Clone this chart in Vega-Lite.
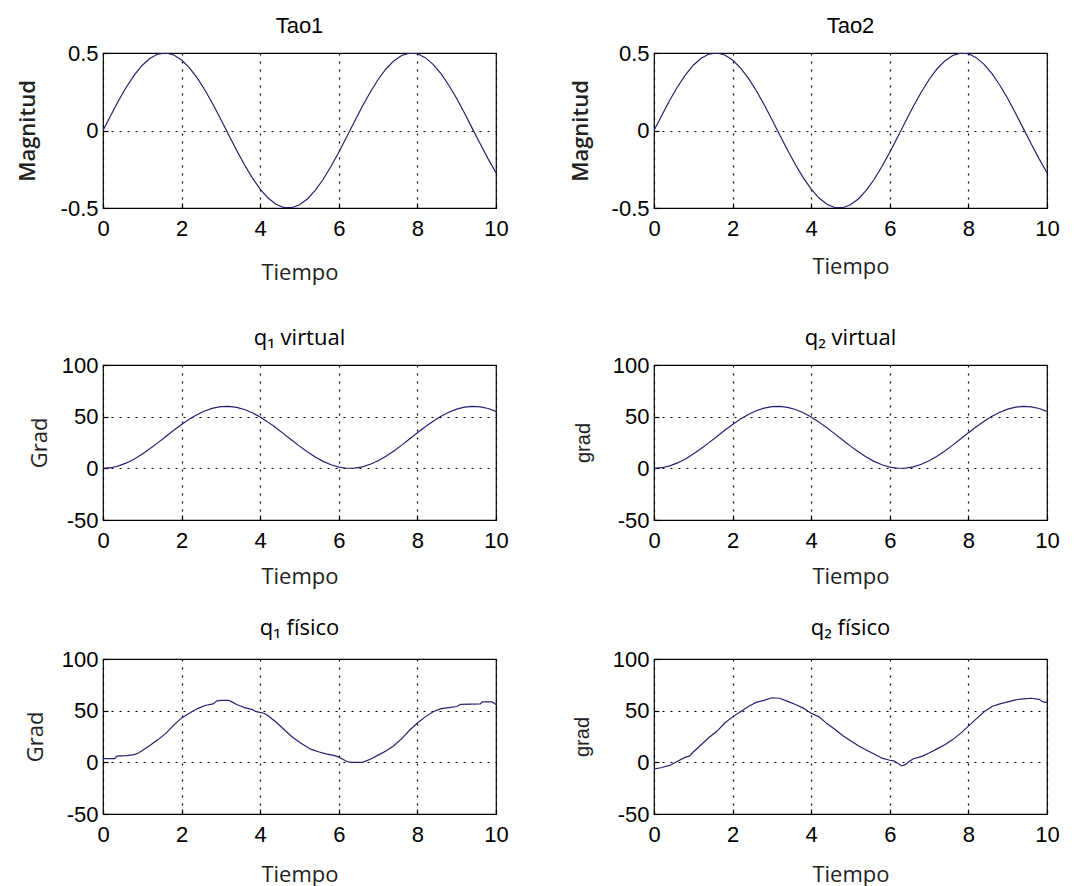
{
  "$schema": "https://vega.github.io/schema/vega-lite/v6.json",
  "padding": {"left": 15, "top": 14, "right": 5, "bottom": 0},
  "background": "white",
  "datasets": {
    "tao": [
      {"t":0,"v":0},{"t":0.2,"v":0.099},{"t":0.4,"v":0.195},{"t":0.6,"v":0.282},{"t":0.8,"v":0.359},{"t":1.0,"v":0.421},{"t":1.2,"v":0.466},{"t":1.4,"v":0.493},{"t":1.6,"v":0.5},{"t":1.8,"v":0.487},{"t":2.0,"v":0.455},{"t":2.2,"v":0.404},{"t":2.4,"v":0.338},{"t":2.6,"v":0.258},{"t":2.8,"v":0.168},{"t":3.0,"v":0.071},{"t":3.2,"v":-0.029},{"t":3.4,"v":-0.128},{"t":3.6,"v":-0.221},{"t":3.8,"v":-0.306},{"t":4.0,"v":-0.378},{"t":4.2,"v":-0.436},{"t":4.4,"v":-0.476},{"t":4.6,"v":-0.497},{"t":4.8,"v":-0.498},{"t":5.0,"v":-0.479},{"t":5.2,"v":-0.442},{"t":5.4,"v":-0.386},{"t":5.6,"v":-0.316},{"t":5.8,"v":-0.232},{"t":6.0,"v":-0.140},{"t":6.2,"v":-0.042},{"t":6.4,"v":0.058},{"t":6.6,"v":0.156},{"t":6.8,"v":0.247},{"t":7.0,"v":0.329},{"t":7.2,"v":0.397},{"t":7.4,"v":0.449},{"t":7.6,"v":0.484},{"t":7.8,"v":0.499},{"t":8.0,"v":0.495},{"t":8.2,"v":0.470},{"t":8.4,"v":0.427},{"t":8.6,"v":0.367},{"t":8.8,"v":0.292},{"t":9.0,"v":0.206},{"t":9.2,"v":0.111},{"t":9.4,"v":0.012},{"t":9.6,"v":-0.087},{"t":9.8,"v":-0.183},{"t":10.0,"v":-0.272}
    ],
    "qv": [
      {"t":0,"v":0},{"t":0.2,"v":0.6},{"t":0.4,"v":2.37},{"t":0.6,"v":5.24},{"t":0.8,"v":9.10},{"t":1.0,"v":13.79},{"t":1.2,"v":19.13},{"t":1.4,"v":24.9},{"t":1.6,"v":30.88},{"t":1.8,"v":36.82},{"t":2.0,"v":42.48},{"t":2.2,"v":47.66},{"t":2.4,"v":52.12},{"t":2.6,"v":55.71},{"t":2.8,"v":58.27},{"t":3.0,"v":59.70},{"t":3.2,"v":59.95},{"t":3.4,"v":59.00},{"t":3.6,"v":56.90},{"t":3.8,"v":53.73},{"t":4.0,"v":49.61},{"t":4.2,"v":44.71},{"t":4.4,"v":39.22},{"t":4.6,"v":33.37},{"t":4.8,"v":27.38},{"t":5.0,"v":21.49},{"t":5.2,"v":15.95},{"t":5.4,"v":10.96},{"t":5.6,"v":6.73},{"t":5.8,"v":3.44},{"t":6.0,"v":1.19},{"t":6.2,"v":0.10},{"t":6.4,"v":0.20},{"t":6.6,"v":1.49},{"t":6.8,"v":3.92},{"t":7.0,"v":7.38},{"t":7.2,"v":11.75},{"t":7.4,"v":16.85},{"t":7.6,"v":22.46},{"t":7.8,"v":28.38},{"t":8.0,"v":34.37},{"t":8.2,"v":40.18},{"t":8.4,"v":45.58},{"t":8.6,"v":50.36},{"t":8.8,"v":54.33},{"t":9.0,"v":57.33},{"t":9.2,"v":59.24},{"t":9.4,"v":59.99},{"t":9.6,"v":59.54},{"t":9.8,"v":57.91},{"t":10.0,"v":55.17}
    ],
    "q1f": [
      {"t":0,"v":3.5},{"t":0.3,"v":3.5},{"t":0.35,"v":6},{"t":0.6,"v":6.5},{"t":0.8,"v":7.5},{"t":0.9,"v":9},{"t":1.0,"v":11.5},{"t":1.2,"v":16.5},{"t":1.4,"v":22},{"t":1.6,"v":28},{"t":1.8,"v":36},{"t":2.0,"v":43},{"t":2.2,"v":47.5},{"t":2.4,"v":52},{"t":2.6,"v":55},{"t":2.8,"v":56.5},{"t":2.9,"v":59.5},{"t":3.0,"v":60},{"t":3.2,"v":60},{"t":3.3,"v":58},{"t":3.4,"v":56},{"t":3.5,"v":54.5},{"t":3.6,"v":53},{"t":3.8,"v":51},{"t":3.9,"v":49},{"t":4.1,"v":47.5},{"t":4.2,"v":45},{"t":4.4,"v":39},{"t":4.6,"v":32},{"t":4.8,"v":25},{"t":5.0,"v":19.5},{"t":5.2,"v":14.5},{"t":5.3,"v":12.5},{"t":5.5,"v":10},{"t":5.7,"v":8},{"t":5.9,"v":6.5},{"t":6.0,"v":5},{"t":6.1,"v":3},{"t":6.2,"v":1},{"t":6.3,"v":0},{"t":6.6,"v":0},{"t":6.8,"v":3},{"t":7.0,"v":7},{"t":7.2,"v":11},{"t":7.4,"v":16},{"t":7.6,"v":23},{"t":7.8,"v":31},{"t":8.0,"v":38},{"t":8.2,"v":44},{"t":8.4,"v":49},{"t":8.6,"v":52},{"t":8.8,"v":53},{"t":9.0,"v":54},{"t":9.1,"v":56},{"t":9.6,"v":56.5},{"t":9.65,"v":58.5},{"t":9.9,"v":58.5},{"t":10,"v":56}
    ],
    "q2f": [
      {"t":0,"v":-6.5},{"t":0.2,"v":-5},{"t":0.4,"v":-3},{"t":0.6,"v":1},{"t":0.8,"v":5},{"t":0.9,"v":6},{"t":1.0,"v":10},{"t":1.2,"v":17},{"t":1.4,"v":24},{"t":1.6,"v":30},{"t":1.8,"v":38},{"t":2.0,"v":44},{"t":2.2,"v":49},{"t":2.4,"v":54},{"t":2.6,"v":58},{"t":2.8,"v":60},{"t":3.0,"v":62.5},{"t":3.2,"v":62},{"t":3.4,"v":59},{"t":3.6,"v":56},{"t":3.8,"v":52.5},{"t":3.9,"v":50},{"t":4.0,"v":47.5},{"t":4.2,"v":44},{"t":4.4,"v":37.5},{"t":4.6,"v":32},{"t":4.8,"v":26},{"t":5.0,"v":21},{"t":5.2,"v":16},{"t":5.4,"v":12},{"t":5.6,"v":8},{"t":5.8,"v":4},{"t":6.0,"v":2},{"t":6.1,"v":1.5},{"t":6.2,"v":-1},{"t":6.3,"v":-3.5},{"t":6.4,"v":-2},{"t":6.5,"v":1},{"t":6.6,"v":3.5},{"t":6.8,"v":5.5},{"t":7.0,"v":9},{"t":7.2,"v":13},{"t":7.4,"v":17},{"t":7.6,"v":22},{"t":7.8,"v":28},{"t":8.0,"v":35},{"t":8.2,"v":42},{"t":8.4,"v":49},{"t":8.6,"v":54},{"t":8.8,"v":56.5},{"t":9.0,"v":58.5},{"t":9.2,"v":60.5},{"t":9.4,"v":61.5},{"t":9.6,"v":62},{"t":9.8,"v":61},{"t":9.9,"v":58.5},{"t":10,"v":58}
    ]
  },
  "config": {
    "view": {"stroke": "black", "strokeWidth": 1.2},
    "axis": {
      "grid": true, "gridColor": "black", "gridDash": [2, 6], "gridOpacity": 1, "gridWidth": 1.2,
      "domain": false, "ticks": true, "tickSize": -5, "tickColor": "black", "tickWidth": 1.2,
      "labelFont": "Liberation Sans", "labelFontSize": 22, "labelColor": "black",
      "titleFont": "Open Sans", "titleFontSize": 22, "titleFontWeight": "normal", "titleColor": "#222"
    },
    "axisX": {"labelFlush": false, "labelPadding": 15},
    "axisY": {"labelFlush": false, "labelPadding": 10},
    "title": {"font": "Open Sans", "fontSize": 22, "fontWeight": "normal", "color": "black", "offset": 4},
    "line": {"color": "#22226e", "strokeWidth": 1.2}
  },
  "vconcat": [
    {
      "hconcat": [
        {
          "width": 393, "height": 155,
          "title": {"text": "Tao1", "font": "Liberation Sans", "fontSize": 22, "offset": 4},
          "data": {"name": "tao"},
          "mark": {"type": "line", "clip": true},
          "encoding": {
            "x": {"field": "t", "type": "quantitative", "scale": {"domain": [0, 10], "nice": false}, "axis": {"values": [0,2,4,6,8,10], "title": "Tiempo", "titlePadding": 23}},
            "y": {"field": "v", "type": "quantitative", "scale": {"domain": [-0.5, 0.5], "nice": false}, "axis": {"values": [-0.5, 0, 0.5], "labelExpr": "datum.value + ''", "title": "Magnitud", "titleFontWeight": 600, "titlePadding": 21}}
          }
        },
        {
          "width": 393, "height": 155,
          "title": {"text": "Tao2", "font": "Liberation Sans", "fontSize": 22, "offset": 4},
          "data": {"name": "tao"},
          "mark": {"type": "line", "clip": true},
          "encoding": {
            "x": {"field": "t", "type": "quantitative", "scale": {"domain": [0, 10], "nice": false}, "axis": {"values": [0,2,4,6,8,10], "title": "Tiempo", "titlePadding": 17}},
            "y": {"field": "v", "type": "quantitative", "scale": {"domain": [-0.5, 0.5], "nice": false}, "axis": {"values": [-0.5, 0, 0.5], "labelExpr": "datum.value + ''", "title": "Magnitud", "titleFontWeight": 600, "titlePadding": 19}}
          }
        }
      ],
      "spacing": 158, "bounds": "flush"
    },
    {
      "vconcat": [
        {
          "hconcat": [
            {
              "width": 393, "height": 155,
              "title": {"text": "q₁  virtual", "offset": 4},
              "data": {"name": "qv"},
              "mark": {"type": "line", "clip": true},
              "encoding": {
                "x": {"field": "t", "type": "quantitative", "scale": {"domain": [0, 10], "nice": false}, "axis": {"values": [0,2,4,6,8,10], "title": "Tiempo", "titlePadding": 15}},
                "y": {"field": "v", "type": "quantitative", "scale": {"domain": [-50, 100], "nice": false}, "axis": {"values": [-50, 0, 50, 100], "labelExpr": "datum.value + ''", "title": "Grad", "titlePadding": 10}}
              }
            },
            {
              "width": 393, "height": 155,
              "title": {"text": "q₂  virtual", "offset": 4},
              "data": {"name": "qv"},
              "mark": {"type": "line", "clip": true},
              "encoding": {
                "x": {"field": "t", "type": "quantitative", "scale": {"domain": [0, 10], "nice": false}, "axis": {"values": [0,2,4,6,8,10], "title": "Tiempo", "titlePadding": 15}},
                "y": {"field": "v", "type": "quantitative", "scale": {"domain": [-50, 100], "nice": false}, "axis": {"values": [-50, 0, 50, 100], "labelExpr": "datum.value + ''", "title": "grad", "titleFont": "Liberation Sans", "titleFontSize": 20, "titlePadding": 19}}
              }
            }
          ],
          "spacing": 158, "bounds": "flush"
        },
        {
          "hconcat": [
            {
              "width": 393, "height": 155,
              "title": {"text": "q₁ físico", "offset": 8},
              "data": {"name": "q1f"},
              "mark": {"type": "line", "clip": true},
              "encoding": {
                "x": {"field": "t", "type": "quantitative", "scale": {"domain": [0, 10], "nice": false}, "axis": {"values": [0,2,4,6,8,10], "title": "Tiempo", "titlePadding": 19}},
                "y": {"field": "v", "type": "quantitative", "scale": {"domain": [-50, 100], "nice": false}, "axis": {"values": [-50, 0, 50, 100], "labelExpr": "datum.value + ''", "title": "Grad", "titlePadding": 14}}
              }
            },
            {
              "width": 393, "height": 155,
              "title": {"text": "q₂ físico", "offset": 8},
              "data": {"name": "q2f"},
              "mark": {"type": "line", "clip": true},
              "encoding": {
                "x": {"field": "t", "type": "quantitative", "scale": {"domain": [0, 10], "nice": false}, "axis": {"values": [0,2,4,6,8,10], "title": "Tiempo", "titlePadding": 19}},
                "y": {"field": "v", "type": "quantitative", "scale": {"domain": [-50, 100], "nice": false}, "axis": {"values": [-50, 0, 50, 100], "labelExpr": "datum.value + ''", "title": "grad", "titleFont": "Liberation Sans", "titleFontSize": 20, "titlePadding": 20}}
              }
            }
          ],
          "spacing": 158, "bounds": "flush"
        }
      ],
      "spacing": 28, "bounds": "full"
    }
  ],
  "spacing": 42, "bounds": "full"
}
